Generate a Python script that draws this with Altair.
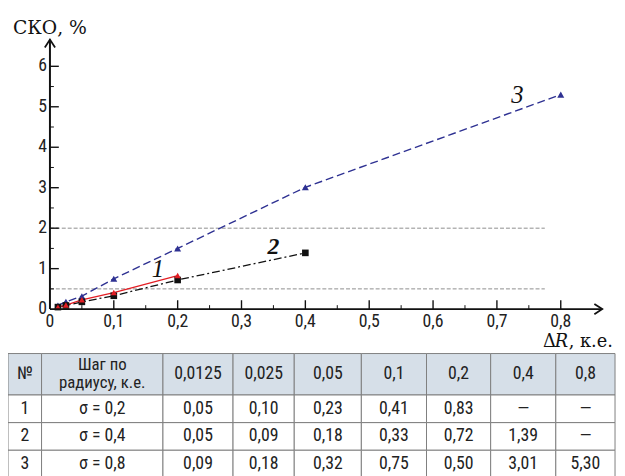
import altair as alt
import pandas as pd

# ---------------- data ----------------
steps = [0.0125, 0.025, 0.05, 0.1, 0.2, 0.4, 0.8]
sko1 = [0.05, 0.10, 0.23, 0.41, 0.83]
sko2 = [0.05, 0.09, 0.18, 0.33, 0.72, 1.39]
sko3 = [0.09, 0.18, 0.32, 0.75, 1.50, 3.01, 5.30]

series_names = ["1", "2", "3"]
label_x = [0.169, 0.350, 0.732]
label_y = [0.98, 1.54, 5.29]
label_bold = [False, True, False]

ref_levels = [0.5, 2.0]
ref_end = 0.775

x_ticks = [0.1, 0.2, 0.3, 0.4, 0.5, 0.6, 0.7, 0.8]
x_tick_labels = ["0", "0,1", "0,2", "0,3", "0,4", "0,5", "0,6", "0,7", "0,8"]
x_label_values = [0, 0.1, 0.2, 0.3, 0.4, 0.5, 0.6, 0.7, 0.8]
x_minor = [0.05, 0.15, 0.25, 0.35, 0.45, 0.55, 0.65, 0.75]
y_ticks = [1, 2, 3, 4, 5, 6]
y_label_values = [0, 1, 2, 3, 4, 5, 6]
y_tick_labels = ["0", "1", "2", "3", "4", "5", "6"]
y_minor = [0.5, 1.5, 2.5, 3.5, 4.5, 5.5]

table_header = ["№", "Шаг по\nрадиусу, к.е.", "0,0125", "0,025", "0,05", "0,1", "0,2", "0,4", "0,8"]
table_row1 = ["1", "σ = 0,2", "0,05", "0,10", "0,23", "0,41", "0,83", "—", "—"]
table_row2 = ["2", "σ = 0,4", "0,05", "0,09", "0,18", "0,33", "0,72", "1,39", "—"]
table_row3 = ["3", "σ = 0,8", "0,09", "0,18", "0,32", "0,75", "0,50", "3,01", "5,30"]

# ---------------- layout ----------------
W, H = 617, 468
PX_PER_X = 646.9
PX_PER_Y = 41.0
X0_PX, Y0_PX = 42.5, 302.0
XMIN = -X0_PX / PX_PER_X
XMAX = (W - X0_PX) / PX_PER_X
YMAX = Y0_PX / PX_PER_Y
YMIN = -(H - Y0_PX) / PX_PER_Y
X_END = 0.865
Y_END = 6.66

col_edges = [0, 34, 157, 228, 290, 358, 424, 489, 555, 615]
row_edges = [347, 389, 417, 445, 473]
LINE_H = 18

SANS = ("Liberation Sans Narrow, Arial Narrow, Roboto Condensed, Noto Sans Condensed, "
        "DejaVu Sans Condensed, Liberation Sans, sans-serif")
SERIF = "DejaVu Serif, Liberation Serif, serif"
RED, BLUE, BLACK = "#e31e24", "#2e3192", "#111111"

XS = alt.Scale(domain=[XMIN, XMAX], nice=False, zero=False)
YS = alt.Scale(domain=[YMIN, YMAX], nice=False, zero=False)


def X(f):
    return alt.X(f, type="quantitative", scale=XS, axis=None)


def X2(f):
    return alt.X2(f)


def Y(f):
    return alt.Y(f, type="quantitative", scale=YS, axis=None)


def Y2(f):
    return alt.Y2(f)


s1 = pd.DataFrame({"x": steps[:len(sko1)], "y": sko1})
s2 = pd.DataFrame({"x": steps[:len(sko2)], "y": sko2})
s3 = pd.DataFrame({"x": steps[:len(sko3)], "y": sko3})

refs = pd.DataFrame({"x": [0] * len(ref_levels), "x2": [ref_end] * len(ref_levels), "y": ref_levels})
ref_layer = alt.Chart(refs).mark_rule(color="#8c8c8c", strokeWidth=1, strokeDash=[4, 2]).encode(
    x=X("x"), x2=X2("x2"), y=Y("y"))

line3 = alt.Chart(s3).mark_line(color=BLUE, strokeWidth=1.4, strokeDash=[8, 4]).encode(x=X("x"), y=Y("y"))
pts3 = alt.Chart(s3).mark_point(shape="triangle-up", filled=True, color=BLUE, size=50, opacity=1).encode(x=X("x"), y=Y("y"))
line2 = alt.Chart(s2).mark_line(color=BLACK, strokeWidth=1.3, strokeDash=[8, 3, 2, 3]).encode(x=X("x"), y=Y("y"))
pts2 = alt.Chart(s2).mark_point(shape="square", filled=True, color=BLACK, size=45, opacity=1).encode(x=X("x"), y=Y("y"))
line1 = alt.Chart(s1).mark_line(color=RED, strokeWidth=1.3).encode(x=X("x"), y=Y("y"))
pts1 = alt.Chart(s1).mark_point(shape="triangle-up", filled=True, color=RED, size=40, opacity=1).encode(x=X("x"), y=Y("y"))

# axes
xa = pd.DataFrame({"x": [0], "x2": [X_END], "y": [0]})
ya = pd.DataFrame({"x": [0], "y": [0], "y2": [Y_END]})
x_axis = alt.Chart(xa).mark_rule(color=BLACK, strokeWidth=2).encode(x=X("x"), x2=X2("x2"), y=Y("y"))
y_axis = alt.Chart(ya).mark_rule(color=BLACK, strokeWidth=2).encode(x=X("x"), y=Y("y"), y2=Y2("y2"))
x_arrow = alt.Chart(pd.DataFrame({"x": [X_END], "y": [0]})).mark_point(
    shape="M-1,-0.65L0,0L-1,0.65", size=256, filled=False, color=BLACK, strokeWidth=1.8, opacity=1
).encode(x=X("x"), y=Y("y"))
y_arrow = alt.Chart(pd.DataFrame({"x": [0], "y": [Y_END]})).mark_point(
    shape="M-0.65,1L0,0L0.65,1", size=256, filled=False, color=BLACK, strokeWidth=1.8, opacity=1
).encode(x=X("x"), y=Y("y"))

xt = pd.DataFrame({"v": x_ticks, "z": 0})
xm = pd.DataFrame({"v": x_minor, "z": 0})
yt = pd.DataFrame({"v": y_ticks, "z": 0})
ym = pd.DataFrame({"v": y_minor, "z": 0})
x_major = alt.Chart(xt).mark_rule(color=BLACK, strokeWidth=1.4, y2Offset=-9).encode(x=X("v"), y=Y("z"), y2=Y2("z"))
x_min = alt.Chart(xm).mark_rule(color=BLACK, strokeWidth=1, y2Offset=-4).encode(x=X("v"), y=Y("z"), y2=Y2("z"))
y_major = alt.Chart(yt).mark_rule(color=BLACK, strokeWidth=1.4, x2Offset=9).encode(y=Y("v"), x=X("z"), x2=X2("z"))
y_min = alt.Chart(ym).mark_rule(color=BLACK, strokeWidth=1, x2Offset=4).encode(y=Y("v"), x=X("z"), x2=X2("z"))

xl = pd.DataFrame({"v": x_label_values, "z": 0, "t": x_tick_labels})
yl = pd.DataFrame({"v": y_label_values, "z": 0, "t": y_tick_labels})
x_labels = alt.Chart(xl).mark_text(font=SANS, fontSize=18, color="#222", dy=13, baseline="middle", align="center").encode(
    x=X("v"), y=Y("z"), text="t:N")
y_labels = alt.Chart(yl).mark_text(font=SANS, fontSize=18, color="#222", dx=-3, baseline="middle", align="right").encode(
    x=X("z"), y=Y("v"), text="t:N")

# series labels
sl = pd.DataFrame({"x": label_x, "y": label_y, "t": series_names, "b": label_bold})
ser_labels_n = alt.Chart(sl[~sl["b"]]).mark_text(font="Liberation Serif, serif", fontSize=25, fontStyle="italic",
                                                color=BLACK, baseline="middle").encode(
    x=X("x"), y=Y("y"), text="t:N")
ser_labels_b = alt.Chart(sl[sl["b"]]).mark_text(font="Liberation Serif, serif", fontSize=24, fontStyle="italic",
                                               fontWeight="bold", color=BLACK, baseline="middle").encode(
    x=X("x"), y=Y("y"), text="t:N")

# titles
ytitle = alt.Chart(pd.DataFrame({"t": ["СКО, %"]})).mark_text(
    font=SERIF, fontSize=19, align="left", baseline="middle", color=BLACK).encode(
    x=alt.value(5), y=alt.value(17), text="t:N")
xt1 = alt.Chart(pd.DataFrame({"t": ["Δ"]})).mark_text(
    font=SERIF, fontSize=18, align="left", baseline="middle", color=BLACK).encode(
    x=alt.value(542), y=alt.value(335), text="t:N")
xt2 = alt.Chart(pd.DataFrame({"t": ["R"]})).mark_text(
    font=SERIF, fontSize=18, fontStyle="italic", align="left", baseline="middle", color=BLACK).encode(
    x=alt.value(554), y=alt.value(335), text="t:N")
xt3 = alt.Chart(pd.DataFrame({"t": [", к.е."]})).mark_text(
    font=SERIF, fontSize=18, align="left", baseline="middle", color=BLACK).encode(
    x=alt.value(568), y=alt.value(335), text="t:N")

plot = alt.layer(ref_layer, line3, line2, line1, pts3, pts2, pts1,
                 x_axis, y_axis, x_arrow, y_arrow, x_major, x_min, y_major, y_min,
                 x_labels, y_labels, ser_labels_n, ser_labels_b, ytitle, xt1, xt2, xt3)

# ---------------- table ----------------
rows = [table_header, table_row1, table_row2, table_row3]
cells = []
for r, row in enumerate(rows):
    for c, txt in enumerate(row):
        n_lines = txt.count("\n") + 1
        cells.append({
            "x": col_edges[c], "x2": col_edges[c + 1],
            "y": row_edges[r], "y2": row_edges[r + 1],
            "xc": (col_edges[c] + col_edges[c + 1]) / 2,
            "yc": (row_edges[r] + row_edges[r + 1]) / 2 - (n_lines - 1) * LINE_H / 2,
            "t": txt,
            "fill": "#d6dfe8" if r == 0 else "#ffffff",
            "fs": 17 if n_lines > 1 else 18,
        })
cells = pd.DataFrame(cells)
TXS = alt.Scale(domain=[0, W], nice=False, zero=False)
TYS = alt.Scale(domain=[0, H], nice=False, zero=False, reverse=True)
t_rect = alt.Chart(cells).mark_rect(stroke="#7f7f7f", strokeWidth=1).encode(
    x=alt.X("x:Q", scale=TXS, axis=None), x2="x2:Q",
    y=alt.Y("y:Q", scale=TYS, axis=None), y2="y2:Q",
    fill=alt.Fill("fill:N", scale=None))
t_text = alt.Chart(cells).mark_text(font=SANS, color="#222", lineBreak="\n", baseline="middle", align="center",
                                    lineHeight=LINE_H).encode(
    x=alt.X("xc:Q", scale=TXS, axis=None),
    y=alt.Y("yc:Q", scale=TYS, axis=None),
    text="t:N",
    size=alt.Size("fs:Q", scale=None))
table = alt.layer(t_rect, t_text)

chart = alt.layer(plot, table).resolve_scale(x="independent", y="independent").properties(
    width=W, height=H, autosize="none", padding=0
).configure_view(stroke=None)

chart.save("out.html", embed_options={"renderer": "svg", "actions": False})
